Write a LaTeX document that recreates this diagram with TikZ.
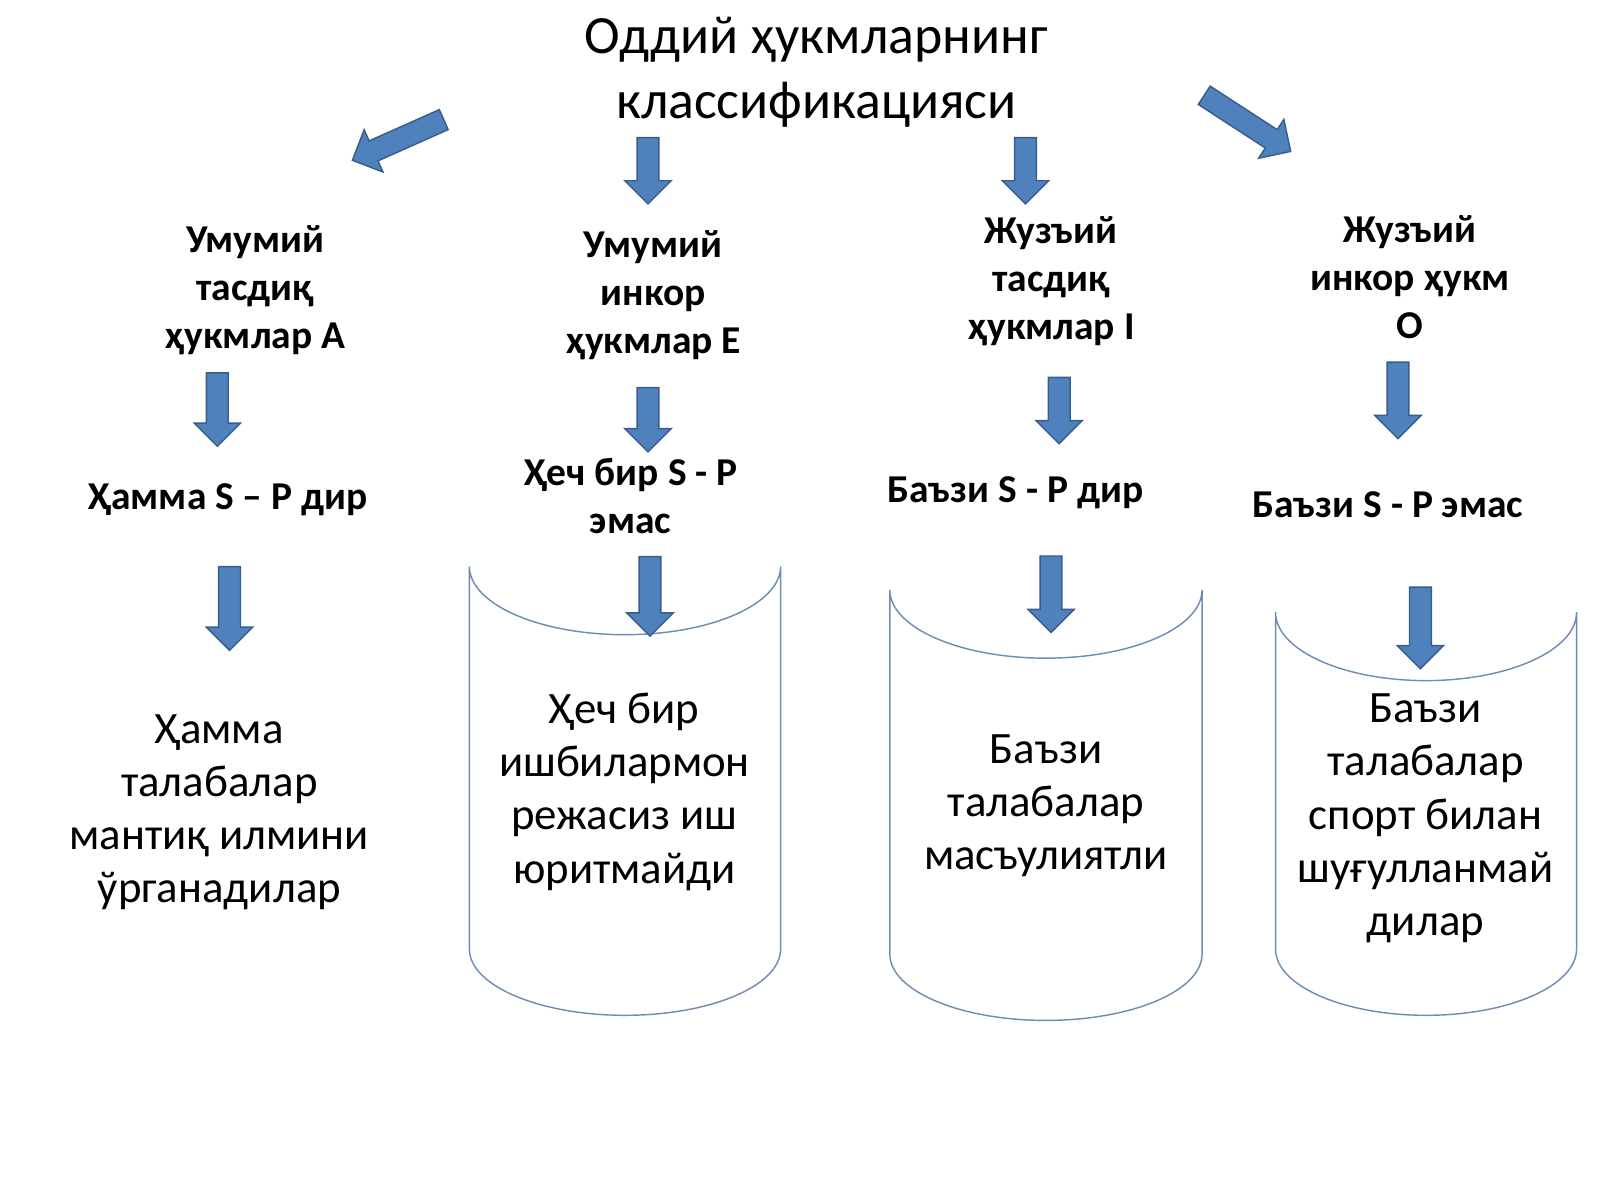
\documentclass[tikz,border=0pt]{standalone}
\usepackage{fontspec}
\setmainfont{Carlito}
\usetikzlibrary{shapes.arrows}
\definecolor{arrowblue}{RGB}{79,129,189}
\definecolor{arrowedge}{RGB}{56,93,138}
\definecolor{cylline}{RGB}{110,140,180}
\tikzset{
  blockarrow/.style={single arrow, fill=arrowblue, draw=arrowedge, thin,
    inner sep=0.1cm, minimum width=0.44cm, single arrow head extend=0.12cm,
    minimum height=#1},
  head/.style={align=center, font=\fontsize{11}{13.4}\selectfont\bfseries},
  rule/.style={align=center, font=\fontsize{11}{13.4}\selectfont\bfseries},
  example/.style={align=center, font=\fontsize{12.5}{14.8}\selectfont},
  cyl/.style={draw=cylline, thin}
}
\begin{document}
\begin{tikzpicture}
    \useasboundingbox (0,0) rectangle (15.68,-11.76);

    % Title
    \node[align=center, font=\fontsize{15}{18}\selectfont] (title) at (8,-0.71)
        {Оддий ҳукмларнинг\\классификацияси};

    % Top arrows
    \node[blockarrow=0.98cm, rotate=204] (tl) at (3.95,-1.35) {};
    \node[blockarrow=0.65cm, rotate=-90] (t2) at (6.35,-1.62) {};
    \node[blockarrow=0.65cm, rotate=-90] (t3) at (10.05,-1.62) {};
    \node[blockarrow=1.01cm, rotate=-33] (tr) at (12.18,-1.18) {};

    % Cylinders
    \foreach \l/\r/\t/\b in {4.6/7.65/5.55/9.3, 8.72/11.78/5.78/9.35, 12.5/15.45/6.0/9.3} {
        \pgfmathsetmacro{\rx}{(\r-\l)/2}
        \draw[cyl] (\l,-\t) -- (\l,-\b)
            arc[start angle=180, end angle=360, x radius=\rx, y radius=0.65]
            -- (\r,-\t)
            arc[start angle=360, end angle=180, x radius=\rx, y radius=0.67];
    }

    % Headings
    \node[head] (ha) at (2.5,-2.84) {Умумий\\тасдиқ\\ҳукмлар А};
    \node[head] (he) at (6.4,-2.89) {Умумий\\инкор\\ҳукмлар Е};
    \node[head] (hi) at (10.3,-2.76) {Жузъий\\тасдиқ\\ҳукмлар I};
    \node[head] (ho) at (13.82,-2.72) {Жузъий\\инкор ҳукм\\O};

    % Middle arrows
    \node[blockarrow=0.72cm, rotate=-90] (ma) at (2.13,-3.96) {};
    \node[blockarrow=0.63cm, rotate=-90] (me) at (6.35,-4.06) {};
    \node[blockarrow=0.65cm, rotate=-90] (mi) at (10.38,-3.97) {};
    \node[blockarrow=0.75cm, rotate=-90] (mo) at (13.7,-3.87) {};

    % Rules
    \node[rule] (ra) at (2.23,-4.9) {Ҳамма S – P дир};
    \node[rule] (re) at (6.18,-4.86) {Ҳеч бир S - P\\эмас};
    \node[rule] (ri) at (9.95,-4.83) {Баъзи S - P дир};
    \node[rule] (ro) at (13.6,-4.95) {Баъзи S - P эмас};

    % Lower arrows
    \node[blockarrow=0.82cm, rotate=-90] (la) at (2.25,-5.91) {};
    \node[blockarrow=0.78cm, rotate=-90] (le) at (6.37,-5.79) {};
    \node[blockarrow=0.75cm, rotate=-90] (li) at (10.3,-5.77) {};
    \node[blockarrow=0.8cm, rotate=-90] (lo) at (13.92,-6.1) {};

    % Examples
    \node[example] (ea) at (2.15,-7.96) {Ҳамма\\талабалар\\мантиқ илмини\\ўрганадилар};
    \node[example] (ee) at (6.12,-7.76) {Ҳеч бир\\ишбилармон\\режасиз иш\\юритмайди};
    \node[example] (ei) at (10.25,-7.9) {Баъзи\\талабалар\\масъулиятли};
    \node[example] (eo) at (13.97,-8.02) {Баъзи\\талабалар\\спорт билан\\шуғулланмай\\дилар};
\end{tikzpicture}
\end{document}
